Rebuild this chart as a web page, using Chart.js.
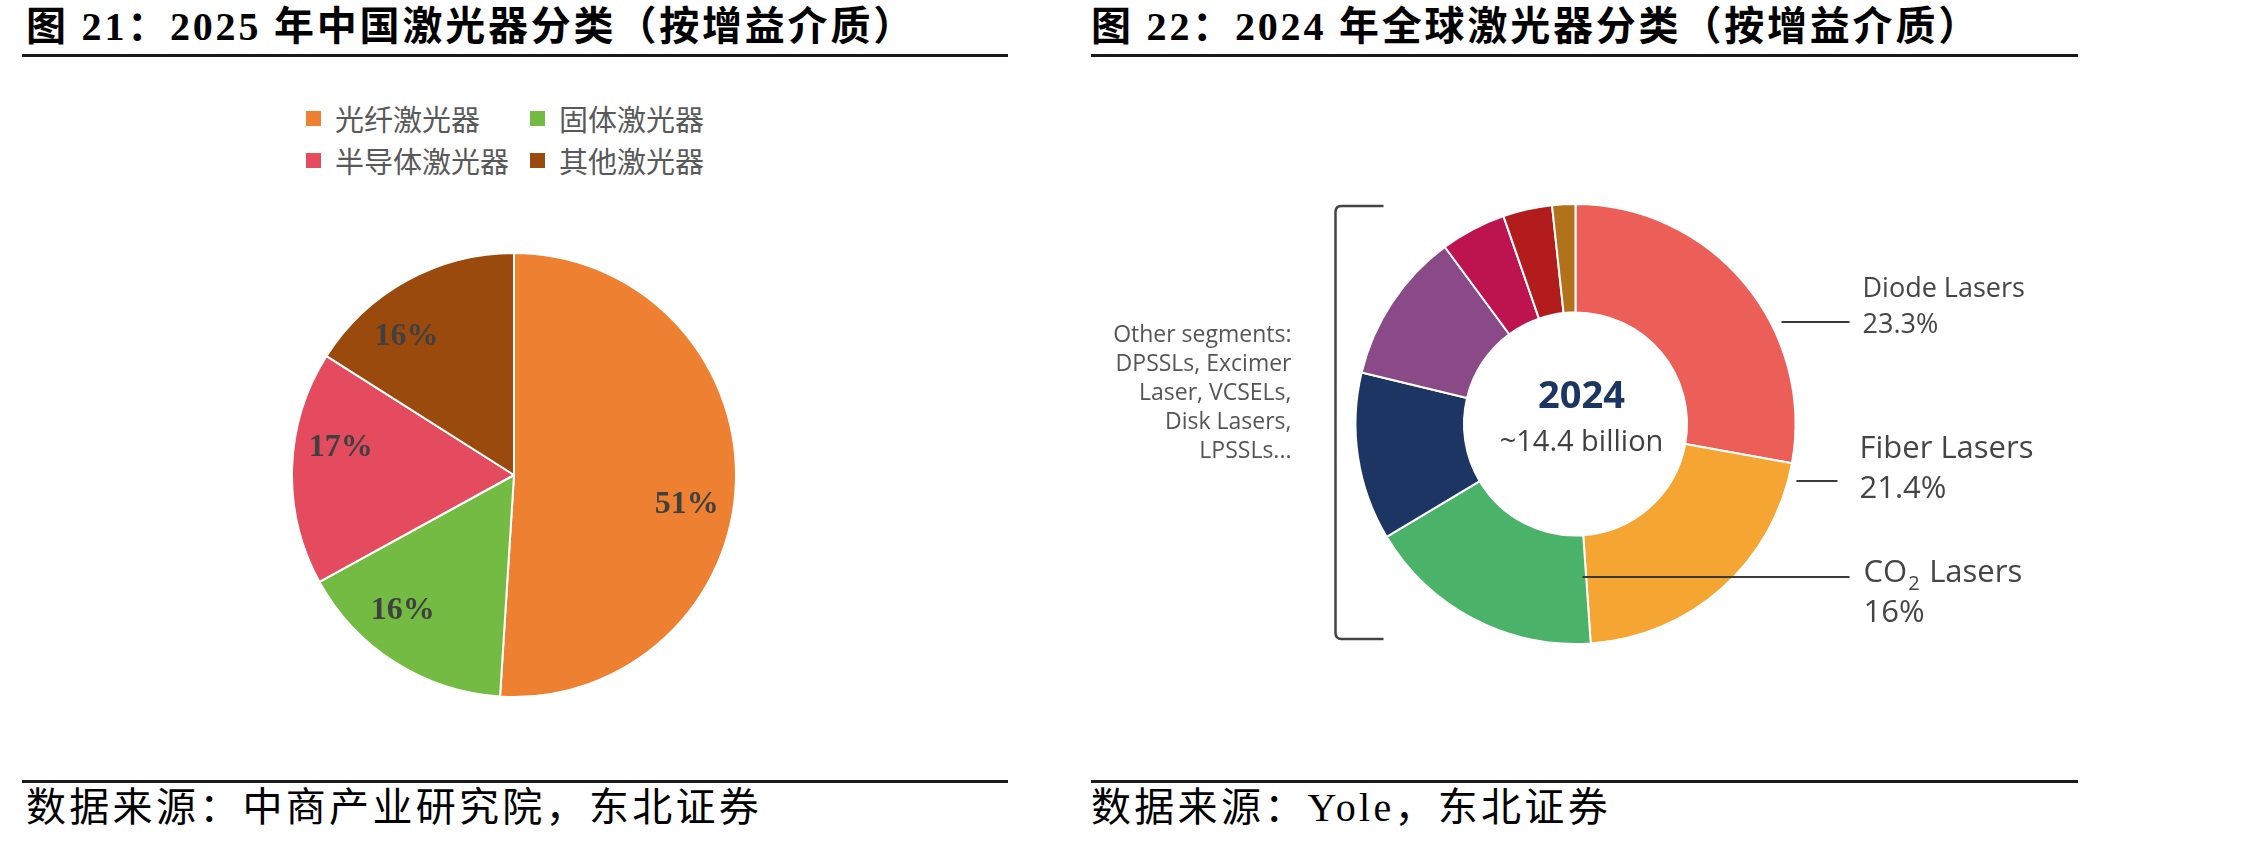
<!DOCTYPE html>
<html>
<head>
<meta charset="utf-8">
<script src="https://cdn.jsdelivr.net/npm/chart.js@4.4.1/dist/chart.umd.min.js"></script>
<style>
  html, body { margin: 0; padding: 0; background: #fff; }
  body { width: 2268px; height: 845px; position: relative; overflow: hidden; }
  .title {
    position: absolute; top: 5px; white-space: nowrap; line-height: 44px;
    font-family: "Liberation Serif", "Noto Sans CJK SC", serif;
    font-weight: bold; font-size: 40px; color: #000; letter-spacing: 2.8px;
  }
  .source {
    position: absolute; top: 785px; white-space: nowrap; line-height: 46px;
    font-family: "Liberation Serif", "Noto Sans CJK SC", serif;
    font-size: 40px; color: #000; letter-spacing: 3.3px;
  }
  .rule { position: absolute; height: 3px; background: #1a1a1a; }
  #legend { position: absolute; left: 306px; top: 97px; display: grid;
    grid-template-columns: 224px auto; row-gap: 0; }
  .lg-item { display: flex; align-items: center; height: 42px;
    font-family: "Noto Sans CJK SC", sans-serif; font-size: 29px; color: #595959; }
  .lg-box { width: 15px; height: 15px; margin-right: 14px; }
  canvas { position: absolute; }
</style>
</head>
<body>

<div class="title" style="left:26px">图 21：2025 年中国激光器分类（按增益介质）</div>
<div class="rule" style="left:22px; width:986px; top:54px"></div>
<div class="title" style="left:1091px">图 22：2024 年全球激光器分类（按增益介质）</div>
<div class="rule" style="left:1091px; width:987px; top:54px"></div>

<div id="legend"></div>
<div style="position:absolute; left:291px; top:252px; width:446px; height:446px">
  <canvas id="chart-cn"></canvas>
</div>
<div style="position:absolute; left:1090px; top:80px; width:1000px; height:680px">
  <canvas id="chart-global"></canvas>
</div>

<div class="rule" style="left:22px; width:986px; top:780px"></div>
<div class="source" style="left:26px">数据来源：中商产业研究院，东北证券</div>
<div class="rule" style="left:1091px; width:987px; top:780px"></div>
<div class="source" style="left:1091px">数据来源：Yole，东北证券</div>

<script>
// --- DANE: Chiny 2025 ---
const cnLabels = ['光纤激光器', '固体激光器', '半导体激光器', '其他激光器'];
const cnShare = [51, 16, 17, 16];
const cnColors = ['#EE8131', '#74BB43', '#E44B5F', '#9A4A0D'];

// --- DANE: świat 2024 (kąty) ---
const globalLabels = ['Diode Lasers', 'Fiber Lasers', 'CO2 Lasers', 'DPSSLs', 'Excimer Laser', 'VCSELs', 'Disk Lasers', 'LPSSLs'];
const globalShare = [27.8, 21.0, 17.5, 12.3, 11.1, 4.8, 3.6, 1.7];
const globalShareText = ['23.3%', '21.4%', '16%'];
const globalColors = ['#EC5F58', '#F4A532', '#4BB269', '#1D3563', '#8A4A87', '#BD134F', '#B31C1C', '#B2721B'];
const otherSegmentsText = ['Other segments:', 'DPSSLs, Excimer', 'Laser, VCSELs,', 'Disk Lasers,', 'LPSSLs...'];
const centerYear = '2024';
const centerTotal = '~14.4 billion';

// legenda HTML (2 kolumny)
const legend = document.getElementById('legend');
cnLabels.forEach((name, i) => {
    const item = document.createElement('div');
    item.className = 'lg-item';
    item.innerHTML = '<span class="lg-box" style="background:' + cnColors[i] + '"></span>' + name;
    legend.appendChild(item);
});

// etykiety procentowe na wycinkach
const pieLabels = {
    id: 'pieLabels',
    afterDatasetsDraw(chart, args, opts) {
        const ctx = chart.ctx;
        const meta = chart.getDatasetMeta(0);
        ctx.save();
        ctx.font = 'bold 32px "Liberation Serif", serif';
        ctx.fillStyle = '#404040';
        ctx.textAlign = 'center';
        ctx.textBaseline = 'middle';
        meta.data.forEach((arc, i) => {
            const mid = (arc.startAngle + arc.endAngle) / 2 + opts.shift[i] * Math.PI / 180;
            const r = arc.outerRadius * 0.79;
            ctx.fillText(cnShare[i] + '%', arc.x + Math.cos(mid) * r, arc.y + Math.sin(mid) * r);
        });
        ctx.restore();
    }
};

new Chart(document.getElementById('chart-cn'), {
    type: 'pie',
    data: {
        labels: cnLabels,
        datasets: [{
            data: cnShare,
            backgroundColor: cnColors,
            borderColor: '#ffffff',
            borderWidth: 2
        }]
    },
    options: {
        responsive: true,
        maintainAspectRatio: false,
        animation: false,
        layout: { padding: 0 },
        plugins: {
            legend: { display: false },
            tooltip: { enabled: false },
            pieLabels: { shift: [8, 7, 7, -9] }
        }
    },
    plugins: [pieLabels]
});

// opisy wokół pierścienia
const donutNotes = {
    id: 'donutNotes',
    afterDatasetsDraw(chart) {
        const ctx = chart.ctx;
        const arc = chart.getDatasetMeta(0).data[0];
        const cx = arc.x, cy = arc.y;
        ctx.save();

        // środek
        ctx.textAlign = 'center';
        ctx.textBaseline = 'alphabetic';
        ctx.fillStyle = '#1D3561';
        ctx.font = 'bold 38px "Open Sans", sans-serif';
        ctx.fillText(centerYear, cx + 6, cy - 16);
        ctx.fillStyle = '#3f3f3f';
        ctx.font = '29px "Open Sans", sans-serif';
        ctx.fillText(centerTotal, cx + 6, cy + 27);

        // nawias po lewej
        ctx.strokeStyle = '#444';
        ctx.lineWidth = 2.5;
        const bx = cx - 240, top = cy - 218, bot = cy + 215, arm = cx - 192;
        ctx.beginPath();
        ctx.moveTo(arm, top);
        ctx.lineTo(bx + 6, top);
        ctx.quadraticCurveTo(bx, top, bx, top + 6);
        ctx.lineTo(bx, bot - 6);
        ctx.quadraticCurveTo(bx, bot, bx + 6, bot);
        ctx.lineTo(arm, bot);
        ctx.stroke();

        ctx.fillStyle = '#555';
        ctx.font = '23px "Open Sans", sans-serif';
        ctx.textAlign = 'right';
        otherSegmentsText.forEach((t, i) => ctx.fillText(t, cx - 284, cy - 82 + i * 29));

        // linie odniesienia + podpisy
        const notes = [
            { y: -102, x0: 206, x1: 274, tx: 287, size: 27, base: -25, gap: 36 },
            { y: 57, x0: 221, x1: 262, tx: 284, size: 31, base: -23, gap: 40 },
            { y: 153, x0: 7, x1: 274, tx: 288, size: 31, base: 5, gap: 40 }
        ];
        ctx.strokeStyle = '#3a3a3a';
        ctx.lineWidth = 2;
        ctx.textAlign = 'left';
        ctx.fillStyle = '#454545';
        notes.forEach((n, i) => {
            ctx.beginPath();
            ctx.moveTo(cx + n.x0, cy + n.y);
            ctx.lineTo(cx + n.x1, cy + n.y);
            ctx.stroke();
            const base = cy + n.y + n.base;
            ctx.font = n.size + 'px "Open Sans", sans-serif';
            const name = globalLabels[i];
            if (name === 'CO2 Lasers') {
                ctx.fillText('CO', cx + n.tx, base);
                const w = ctx.measureText('CO').width;
                ctx.font = '20px "Open Sans", sans-serif';
                ctx.fillText('2', cx + n.tx + w + 1, base + 8);
                ctx.font = n.size + 'px "Open Sans", sans-serif';
                ctx.fillText('Lasers', cx + n.tx + w + 22, base);
            } else {
                ctx.fillText(name, cx + n.tx, base);
            }
            ctx.fillText(globalShareText[i], cx + n.tx, base + n.gap);
        });
        ctx.restore();
    }
};

new Chart(document.getElementById('chart-global'), {
    type: 'doughnut',
    data: {
        labels: globalLabels,
        datasets: [{
            data: globalShare,
            backgroundColor: globalColors,
            borderColor: '#ffffff',
            borderWidth: 2
        }]
    },
    options: {
        responsive: true,
        maintainAspectRatio: false,
        animation: false,
        cutout: '50.7%',
        layout: { padding: { left: 264.5, right: 293.5, top: 123, bottom: 115 } },
        plugins: {
            legend: { display: false },
            tooltip: { enabled: false }
        }
    },
    plugins: [donutNotes]
});
</script>
</body>
</html>
